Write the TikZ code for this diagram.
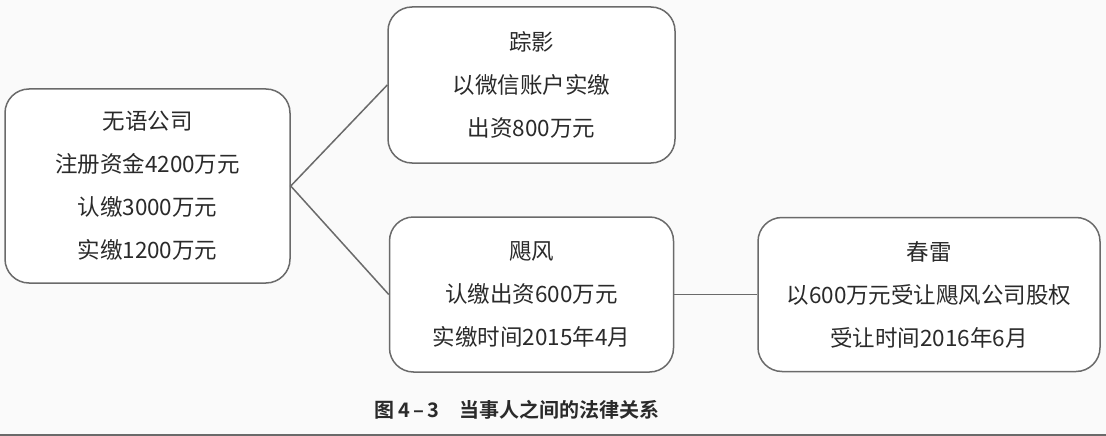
\documentclass[tikz,border=0pt]{standalone}
\usepackage{fontspec}
\setmainfont{Noto Sans CJK SC}
\newfontfamily\capfont{Noto Sans CJK SC}[BoldFont={* Bold}]
\definecolor{linec}{HTML}{6A6A6A}
\definecolor{textc}{HTML}{2A2A2A}
\definecolor{bgc}{HTML}{FAFAFA}
\begin{document}
\begin{tikzpicture}[x=1pt,y=-1pt,
  box/.style={draw=linec, line width=1.5pt, rounded corners=24pt, fill=white,
    align=center, text=textc, inner sep=0pt,
    font=\fontsize{22.5}{43}\selectfont},
  link/.style={draw=linec, line width=1.5pt}]
\useasboundingbox (0,0) rectangle (1106,436);
\fill[bgc] (0,0) rectangle (1106,436);
\draw[linec, line width=1.5pt] (0,435) -- (1106,435);
\node[box, minimum width=285pt, minimum height=194pt] (wuyu) at (147.5,186)
  {无语公司\\注册资金4200万元\\认缴3000万元\\实缴1200万元};
\node[box, minimum width=287pt, minimum height=156pt] (zong) at (531.5,85)
  {踪影\\以微信账户实缴\\出资800万元};
\node[box, minimum width=284pt, minimum height=155pt] (ju) at (531.5,294.5)
  {飓风\\认缴出资600万元\\实缴时间2015年4月};
\node[box, minimum width=342pt, minimum height=154pt] (chun) at (929,294.5)
  {春雷\\以600万元受让飓风公司股权\\受让时间2016年6月};
\coordinate (v) at (wuyu.east);
\draw[link] (zong.west) -- (v) -- (ju.west);
\draw[link] (ju.east) -- (chun.west);
\node[text=textc, font=\capfont\bfseries\fontsize{20}{22}\selectfont] (cap) at (517,410)
  {图\,4\,–\,3\quad 当事人之间的法律关系};
\end{tikzpicture}
\end{document}
